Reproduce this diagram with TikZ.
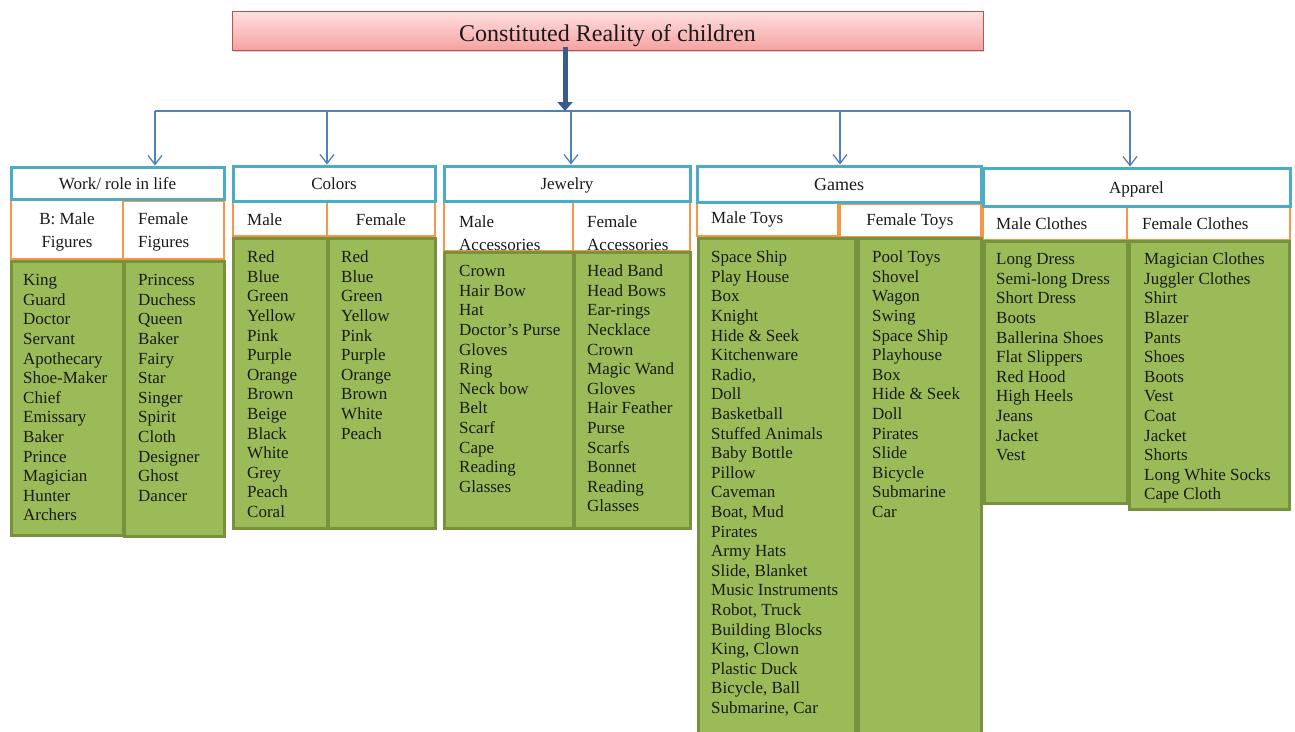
\documentclass[tikz,border=0pt]{standalone}
\usepackage{fontspec}
\setmainfont{Liberation Serif}
\usetikzlibrary{arrows.meta,shadows}

\definecolor{hdrblue}{HTML}{4BACC6}
\definecolor{suborange}{HTML}{F79646}
\definecolor{grnfill}{HTML}{9BBB59}
\definecolor{grnline}{HTML}{76923C}
\definecolor{connblue}{HTML}{4F81BD}
\definecolor{arrowblue}{HTML}{385D8A}
\definecolor{titleline}{HTML}{C0504D}
\definecolor{titletop}{HTML}{FFE0E0}
\definecolor{titlebot}{HTML}{F5A2A2}
\definecolor{txt}{HTML}{1A1A1A}

\tikzset{
  titlebox/.style={draw=titleline, line width=0.9pt, top color=titletop, bottom color=titlebot,
    drop shadow={shadow xshift=1pt, shadow yshift=-2pt, opacity=0.35}},
  titletext/.style={inner sep=0pt, text=txt, font=\fontsize{24}{28}\selectfont},
  hdrbox/.style={draw=hdrblue, line width=3pt, fill=white, text=txt,
    text height=12pt, text depth=0pt, font=\fontsize{17}{20}\selectfont},
  subbox/.style={draw=suborange, line width=2.5pt, fill=white},
  grnbox/.style={draw=grnline, line width=3pt, fill=grnfill},
  itemlist/.style={anchor=north west, align=left, inner sep=0pt, text=txt,
    font=\fontsize{17}{19.6}\selectfont},
  subtext/.style={inner sep=0pt, text=txt, font=\fontsize{17}{23}\selectfont},
  connline/.style={draw=connblue, line width=1.3pt},
  conn/.style={draw=connblue, line width=1.3pt, -{Straight Barb[length=9pt,width=14pt]}},
  mainarrow/.style={draw=arrowblue, line width=5pt, -{Triangle[length=9pt,width=15pt]}}
}

% style, name, x1, y1, x2, y2, text
\newcommand{\mkbox}[7]{%
  \node[#1, inner sep=0pt, minimum width={#5-#3}, minimum height={#6-#4}] (#2)
    at ({(#3+#5)/2},{(#4+#6)/2}) {#7};}

\begin{document}
\begin{tikzpicture}[x=1pt, y=-1pt]
\useasboundingbox (0,0) rectangle (1295,731);

% title
\mkbox{titlebox}{title}{232}{11}{983}{50}{}
\node[titletext] (titlet) at (607.5,35.5) {Constituted Reality of children};

% connectors
\coordinate (hub) at (565,111);
\coordinate (j1) at (155,111);
\coordinate (j2) at (327,111);
\coordinate (j3) at (571,111);
\coordinate (j4) at (840,111);
\coordinate (j5) at (1130,111);
\draw[connline] (j1) -- (j5);
\draw[mainarrow] ([yshift=3pt]title.south -| hub) -- (hub);

% orange sub boxes
\mkbox{subbox}{wm}{11}{199}{123}{259}{}
\mkbox{subbox}{wf}{123}{201}{224}{259}{}
\mkbox{subbox}{cm}{233}{201}{327}{236}{}
\mkbox{subbox}{cf}{327}{201}{435}{236}{}
\mkbox{subbox}{jm}{444}{201}{573}{251}{}
\mkbox{subbox}{jf}{573}{201}{690}{251}{}
\mkbox{subbox}{gm}{697}{203}{838}{236}{}
\mkbox{subbox}{gf}{840}{204}{981}{237}{}
\mkbox{subbox}{am}{983}{206}{1127}{240}{}
\mkbox{subbox}{af}{1127}{206}{1290}{240}{}

% green boxes
\mkbox{grnbox}{wmg}{11}{261}{123}{535}{}
\mkbox{grnbox}{wfg}{124}{261}{224}{536}{}
\mkbox{grnbox}{cmg}{233}{238}{327}{528}{}
\mkbox{grnbox}{cfg}{328}{238}{435}{528}{}
\mkbox{grnbox}{jmg}{444}{252}{573}{528}{}
\mkbox{grnbox}{jfg}{574}{252}{690}{528}{}
\mkbox{grnbox}{gmg}{698}{238}{855}{740}{}
\mkbox{grnbox}{gfg}{858}{238}{981}{740}{}
\mkbox{grnbox}{amg}{984}{241}{1127}{503}{}
\mkbox{grnbox}{afg}{1129}{241}{1289}{509}{}

% headers
\mkbox{hdrbox}{work}{11}{167}{224}{199}{Work/ role in life}
\mkbox{hdrbox}{colors}{233}{166}{435}{201}{Colors}
\mkbox{hdrbox}{jewel}{444}{166}{690}{201}{Jewelry}
\mkbox{hdrbox, font=\fontsize{18}{21}\selectfont}{games}{697}{166}{981}{202}{Games}
\mkbox{hdrbox}{apparel}{983}{168}{1290}{206}{Apparel}

\draw[conn] (j1) -- (j1 |- work.north);
\draw[conn] (j2) -- (j2 |- colors.north);
\draw[conn] (j3) -- (j3 |- jewel.north);
\draw[conn] (j4) -- (j4 |- games.north);
\draw[conn] (j5) -- (j5 |- apparel.north);

% sub header texts
\node[subtext, align=center] (twm) at (67,231.5) {B: Male\\Figures};
\node[subtext, align=left, anchor=west] (twf) at (138,232) {Female\\Figures};
\node[subtext, anchor=base west] (tcm) at (247,225.5) {Male};
\node[subtext, anchor=base] (tcf) at (381,225.5) {Female};
\node[subtext, align=left, anchor=west] (tjm) at (459,233) {Male\\Accessories};
\node[subtext, align=left, anchor=west] (tjf) at (587,233) {Female\\Accessories};
\node[subtext, anchor=base west] (tgm) at (711,223.5) {Male Toys};
\node[subtext, anchor=base] (tgf) at (910,225.5) {Female Toys};
\node[subtext, anchor=base west] (tam) at (996,229.5) {Male Clothes};
\node[subtext, anchor=base west] (taf) at (1142,229.5) {Female Clothes};

% lists
\node[itemlist] (lwm) at (23,271.8) {\strut King\\Guard\\Doctor\\Servant\\Apothecary\\Shoe-Maker\\Chief\\Emissary\\Baker\\Prince\\Magician\\Hunter\\Archers};
\node[itemlist] (lwf) at (138,271.8) {\strut Princess\\Duchess\\Queen\\Baker\\Fairy\\Star\\Singer\\Spirit\\Cloth\\Designer\\Ghost\\Dancer};
\node[itemlist] (lcm) at (247,248.8) {\strut Red\\Blue\\Green\\Yellow\\Pink\\Purple\\Orange\\Brown\\Beige\\Black\\White\\Grey\\Peach\\Coral};
\node[itemlist] (lcf) at (341,248.8) {\strut Red\\Blue\\Green\\Yellow\\Pink\\Purple\\Orange\\Brown\\White\\Peach};
\node[itemlist] (ljm) at (459,262.8) {\strut Crown\\Hair Bow\\Hat\\Doctor’s Purse\\Gloves\\Ring\\Neck bow\\Belt\\Scarf\\Cape\\Reading\\Glasses};
\node[itemlist] (ljf) at (587,262.8) {\strut Head Band\\Head Bows\\Ear-rings\\Necklace\\Crown\\Magic Wand\\Gloves\\Hair Feather\\Purse\\Scarfs\\Bonnet\\Reading\\Glasses};
\node[itemlist] (lgm) at (711,248.8) {\strut Space Ship\\Play House\\Box\\Knight\\Hide \& Seek\\Kitchenware\\Radio,\\Doll\\Basketball\\Stuffed Animals\\Baby Bottle\\Pillow\\Caveman\\Boat, Mud\\Pirates\\Army Hats\\Slide, Blanket\\Music Instruments\\Robot, Truck\\Building Blocks\\King, Clown\\Plastic Duck\\Bicycle, Ball\\Submarine, Car};
\node[itemlist] (lgf) at (872,248.8) {\strut Pool Toys\\Shovel\\Wagon\\Swing\\Space Ship\\Playhouse\\Box\\Hide \& Seek\\Doll\\Pirates\\Slide\\Bicycle\\Submarine\\Car};
\node[itemlist] (lam) at (996,250.8) {\strut Long Dress\\Semi-long Dress\\Short Dress\\Boots\\Ballerina Shoes\\Flat Slippers\\Red Hood\\High Heels\\Jeans\\Jacket\\Vest};
\node[itemlist] (laf) at (1144,250.8) {\strut Magician Clothes\\Juggler Clothes\\Shirt\\Blazer\\Pants\\Shoes\\Boots\\Vest\\Coat\\Jacket\\Shorts\\Long White Socks\\Cape Cloth};
\end{tikzpicture}
\end{document}
